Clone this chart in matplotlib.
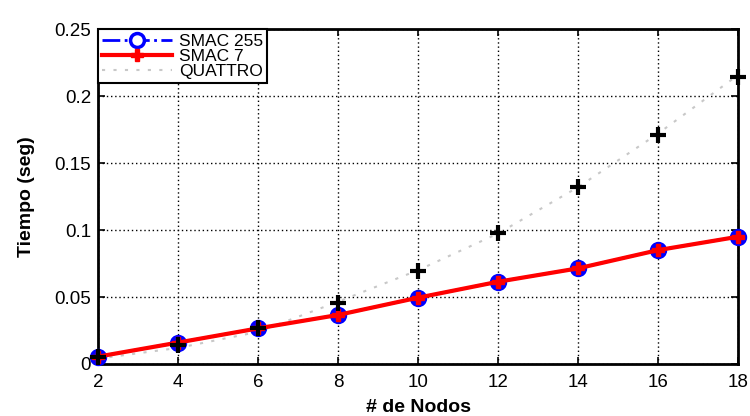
import matplotlib
matplotlib.use("Agg")
import matplotlib.pyplot as plt
from matplotlib.lines import Line2D

# values
nodos = [2, 4, 6, 8, 10, 12, 14, 16, 18]
smac_255 = [0.0055, 0.016, 0.0266, 0.0366, 0.0495, 0.0614, 0.0714, 0.085, 0.095]
smac_7 = [0.0055, 0.016, 0.0266, 0.0366, 0.0495, 0.0614, 0.0714, 0.085, 0.095]
quattro_fit = [0.004, 0.012, 0.024, 0.0465, 0.070, 0.0974, 0.132, 0.172, 0.2157]
quattro = [0.0055, 0.014, 0.0266, 0.0457, 0.0694, 0.098, 0.132, 0.171, 0.2144]

x_ticks = [2, 4, 6, 8, 10, 12, 14, 16, 18]
y_ticks = [0, 0.05, 0.1, 0.15, 0.2, 0.25]
y_tick_labels = ["0", "0.05", "0.1", "0.15", "0.2", "0.25"]

plt.rcParams["font.family"] = ["Liberation Sans", "DejaVu Sans"]

fig = plt.figure(figsize=(7.5, 4.16), dpi=100)
ax = fig.add_axes([0.1307, 0.125, 0.8533, 0.805])

ax.plot(nodos, quattro_fit, color="#c8c8c8", linestyle=(0, (1.5, 4)),
        linewidth=1.5, zorder=2)
ax.plot(nodos, smac_255, color="blue", linestyle="-.", linewidth=2,
        marker="o", markersize=11, markerfacecolor="blue",
        markeredgecolor="blue", markeredgewidth=1.5, zorder=3, clip_on=False)
ax.plot(nodos, smac_7, color="red", linestyle="-", linewidth=3,
        marker="P", markersize=8, markerfacecolor="red",
        markeredgecolor="red", zorder=4, clip_on=False)
ax.plot(nodos, quattro, color="black", linestyle="none", marker="+",
        markersize=11, markeredgewidth=3, zorder=5, clip_on=False)

ax.set_xlim(2, 18)
ax.set_ylim(0, 0.25)
ax.set_xticks(x_ticks)
ax.set_yticks(y_ticks)
ax.set_yticklabels(y_tick_labels)
ax.tick_params(direction="in", length=5, width=1.2, labelsize=13.5,
               top=True, right=True)
ax.tick_params(axis="x", pad=7)
ax.tick_params(axis="y", pad=5)
ax.grid(True, color="black", linestyle=(0, (1, 2)), linewidth=1)
for spine in ax.spines.values():
    spine.set_linewidth(2)

ax.set_xlabel("# de Nodos", fontsize=14, fontweight="bold", labelpad=6)
ax.set_ylabel("Tiempo (seg)", fontsize=14, fontweight="bold", labelpad=14)

handles = [
    Line2D([], [], color="blue", linestyle="-.", linewidth=2, marker="o",
           markersize=10, markerfacecolor="white", markeredgewidth=2.5),
    Line2D([], [], color="red", linestyle="-", linewidth=3, marker="P",
           markersize=8, markerfacecolor="red"),
    Line2D([], [], color="#c8c8c8", linestyle=(0, (1.5, 4)), linewidth=1.5),
]
leg = ax.legend(handles, ["SMAC 255", "SMAC 7", "QUATTRO"], loc="upper left",
                bbox_to_anchor=(0, 1), borderaxespad=0, fontsize=12.5,
                handlelength=4.0, handletextpad=0.4, labelspacing=0.0,
                borderpad=0.25, fancybox=False, framealpha=1)
leg.get_frame().set_edgecolor("black")
leg.get_frame().set_linewidth(1.5)

fig.savefig("out.png", dpi=100)
